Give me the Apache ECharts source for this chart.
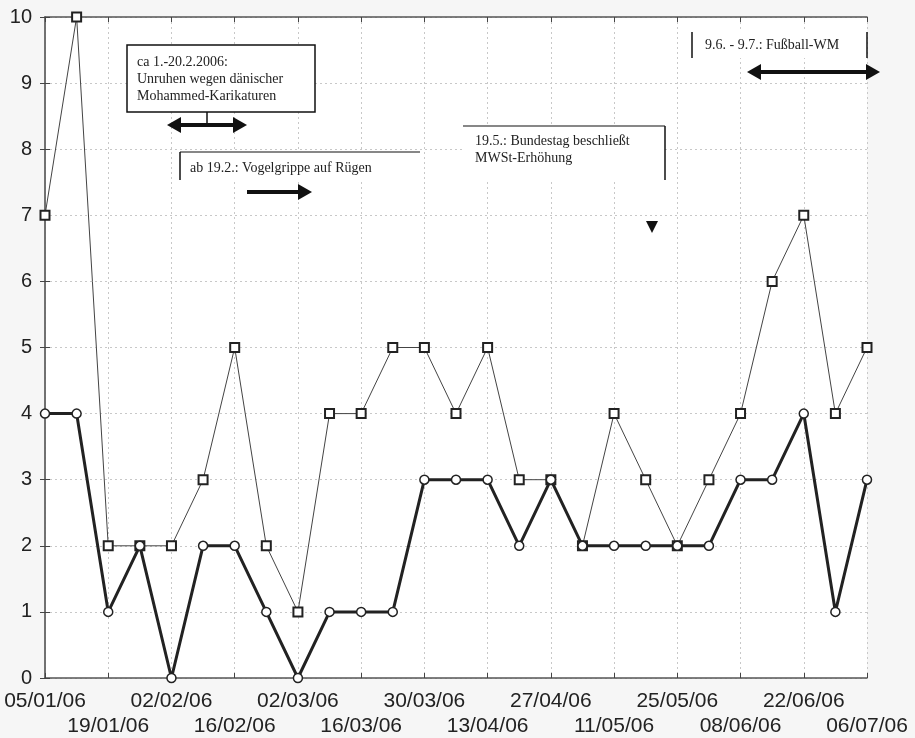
<!DOCTYPE html>
<html>
<head>
<meta charset="utf-8">
<script src="https://cdn.jsdelivr.net/npm/echarts@6/dist/echarts.min.js"></script>
<style>
html,body{margin:0;padding:0;background:#f6f6f6;}
#c{width:915px;height:738px;}
</style>
</head>
<body>
<div id="c"></div>
<script>
const dates = ['05/01/06','12/01/06','19/01/06','26/01/06','02/02/06','09/02/06','16/02/06','23/02/06','02/03/06','09/03/06','16/03/06','23/03/06','30/03/06','06/04/06','13/04/06','20/04/06','27/04/06','04/05/06','11/05/06','18/05/06','25/05/06','01/06/06','08/06/06','15/06/06','22/06/06','29/06/06','06/07/06'];
const squareValues = [7,10,2,2,2,3,5,2,1,4,4,5,5,4,5,3,3,2,4,3,2,3,4,6,7,4,5];
const circleValues = [4,4,1,2,0,2,2,1,0,1,1,1,3,3,3,2,3,2,2,2,2,2,3,3,4,1,3];
const yTicks = [0,1,2,3,4,5,6,7,8,9,10];

const chart = echarts.init(document.getElementById('c'));
const sq = squareValues.map((v,i)=>[i,v]);
const ci = circleValues.map((v,i)=>[i,v]);

const sans = '"Liberation Sans",Arial,sans-serif';
const serif = '"Liberation Serif","DejaVu Serif",serif';
const txt = (x,y,s)=>({type:'text',x:x,y:y,style:{text:s,font:'14px '+serif,fill:'#222',textVerticalAlign:'middle'},z:101});
const ln = (x1,y1,x2,y2,w)=>({type:'line',shape:{x1,y1,x2,y2},style:{stroke:'#111',lineWidth:w||1.5},z:101});
const head = (x,y,dir)=>({type:'polygon',shape:{points:dir>0?[[x,y],[x-14,y-8],[x-14,y+8]]:[[x,y],[x+14,y-8],[x+14,y+8]]},style:{fill:'#111'},z:101});
const lastIdx = dates.length-1;
const labelAxis = (row, margin)=>({
  type:'value',position:'bottom',min:0,max:lastIdx,interval:2,
  axisLine:{show:false},axisTick:{show:false},splitLine:{show:false},
  axisLabel:{
    margin:margin,fontSize:21,color:'#222',fontFamily:sans,
    showMinLabel:true,showMaxLabel:true,hideOverlap:false,
    formatter:v=>((v/2)%2===row)? dates[v] : ''
  }
});

chart.setOption({
  animation:false,
  backgroundColor:'#f6f6f6',
  grid:{left:45,right:48,top:17,bottom:60,show:true,backgroundColor:'#fff',borderWidth:0},
  xAxis:[{
    type:'value',min:0,max:lastIdx,interval:2,
    axisLine:{lineStyle:{color:'#555',width:1.5}},
    axisTick:{inside:true,length:5,lineStyle:{color:'#444'}},
    splitLine:{show:true,lineStyle:{type:[2,3],color:'#c8c8c8'}},
    axisLabel:{show:false}
  },
  labelAxis(0,13),
  labelAxis(1,38),
  {
    type:'value',position:'top',min:0,max:lastIdx,interval:2,
    axisLine:{show:true,lineStyle:{color:'#555',width:1.5}},
    axisTick:{show:true,inside:true,length:5,lineStyle:{color:'#444'}},
    axisLabel:{show:false},splitLine:{show:false}
  }],
  yAxis:[{
    type:'value',min:yTicks[0],max:yTicks[yTicks.length-1],interval:1,
    axisLine:{show:true,lineStyle:{color:'#bbb',width:1.5}},
    axisTick:{show:true,inside:true,length:5,lineStyle:{color:'#444'}},
    splitLine:{show:true,lineStyle:{type:[2,3],color:'#c8c8c8'}},
    axisLabel:{fontSize:20,color:'#222',margin:13,fontFamily:sans}
  },{
    type:'value',position:'right',min:yTicks[0],max:yTicks[yTicks.length-1],interval:1,
    axisLine:{show:true,lineStyle:{color:'#555',width:1.5}},
    axisTick:{show:true,inside:true,length:5,lineStyle:{color:'#444'}},
    axisLabel:{show:false},splitLine:{show:false}
  }],
  series:[{
    type:'line',data:sq,symbol:'rect',symbolSize:9,showAllSymbol:true,clip:false,
    lineStyle:{color:'#444',width:1},
    itemStyle:{color:'#fff',borderColor:'#222',borderWidth:2},
    z:3
  },{
    type:'line',data:ci,symbol:'circle',symbolSize:9,showAllSymbol:true,clip:false,
    lineStyle:{color:'#222',width:3},
    itemStyle:{color:'#fff',borderColor:'#222',borderWidth:1.5},
    z:4
  }],
  graphic:[
    {type:'rect',shape:{x:127,y:45,width:188,height:67},style:{fill:'#fff',stroke:'#111',lineWidth:1.5},z:100},
    txt(137,62,'ca 1.-20.2.2006:'),
    txt(137,79,'Unruhen wegen dänischer'),
    txt(137,96,'Mohammed-Karikaturen'),
    ln(207,112,207,125,1.5),
    ln(178,125,236,125,4), head(167,125,-1), head(247,125,1),

    {type:'rect',shape:{x:180,y:152,width:240,height:28},style:{fill:'#fff'},z:100},
    ln(180,152,420,152,1.2), ln(180,152,180,180,1.5),
    txt(190,168,'ab 19.2.: Vogelgrippe auf Rügen'),
    ln(247,192,300,192,4), head(312,192,1),

    {type:'rect',shape:{x:463,y:126,width:202,height:54},style:{fill:'#fff'},z:100},
    ln(463,126,665,126,1.2), ln(665,126,665,180,1.5),
    txt(475,141,'19.5.: Bundestag beschließt'),
    txt(475,158,'MWSt-Erhöhung'),
    {type:'polygon',shape:{points:[[646,221],[658,221],[652,233]]},style:{fill:'#111'},z:101},

    {type:'rect',shape:{x:692,y:32,width:175,height:26},style:{fill:'#fff'},z:100},
    ln(692,32,692,58,1.5), ln(867,32,867,58,1.5),
    txt(705,45,'9.6. - 9.7.: Fußball-WM'),
    ln(758,72,869,72,4), head(747,72,-1), head(880,72,1)
  ]
});
</script>
</body>
</html>
